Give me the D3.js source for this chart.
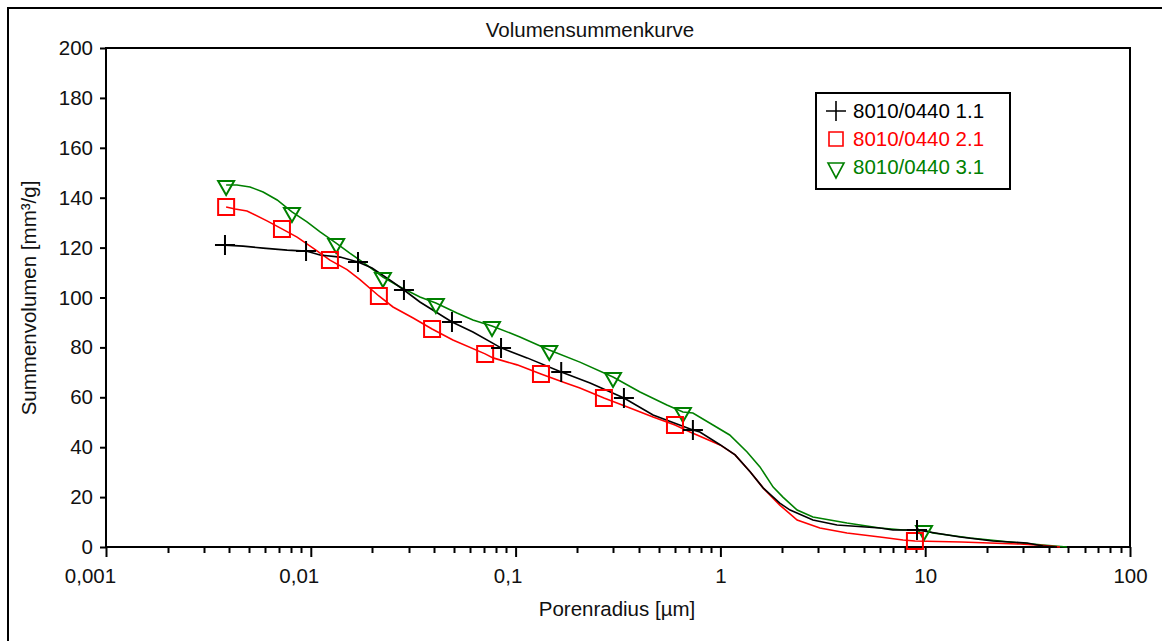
<!DOCTYPE html>
<html>
<head>
<meta charset="utf-8">
<script src="https://cdn.jsdelivr.net/npm/d3@7"></script>
<style>
  html, body { margin: 0; padding: 0; background: #fff; }
  svg { display: block; }
  text { font-family: "Liberation Sans", Arial, sans-serif; font-size: 20.5px; fill: #111; }
</style>
</head>
<body>
<svg id="chart" width="1162" height="641"></svg>
<script>
// Cumulative pore volume curves (Hg porosimetry), three samples
const seriesNames = ["8010/0440 1.1", "8010/0440 2.1", "8010/0440 3.1"];

// Sample 1.1
const radius1 = [0.00381, 0.00467, 0.00585, 0.00766, 0.00948, 0.0111, 0.0139, 0.0170, 0.0199, 0.0244,
  0.0285, 0.0341, 0.0489, 0.0619, 0.0849, 0.1138, 0.167, 0.231, 0.338, 0.469,
  0.734, 0.794, 0.996, 1.18, 1.40, 1.62, 1.95, 2.19, 2.83, 3.71,
  6.01, 6.96, 9.12, 14.8, 21.4, 31.4, 37.6, 44];
const volume1 = [121.0, 120.6, 119.8, 119.0, 118.6, 117.0, 116.2, 114.2, 111.8, 107.0,
  103.0, 98.2, 90.2, 86.2, 79.8, 75.8, 70.1, 65.7, 59.7, 52.9,
  46.9, 46.1, 41.0, 36.9, 30.1, 23.6, 17.6, 14.8, 10.8, 8.8,
  7.6, 6.8, 6.8, 4.0, 2.4, 1.6, 0.4, 0];
const markers1 = [0, 4, 7, 10, 12, 14, 16, 18, 20, 32];

// Sample 2.1
const radius2 = [0.00386, 0.00427, 0.00488, 0.00611, 0.00723, 0.00857, 0.01026, 0.0124, 0.01503, 0.01738,
  0.0215, 0.0252, 0.0316, 0.0391, 0.0494, 0.0710, 0.0776, 0.1017, 0.133, 0.170,
  0.206, 0.270, 0.362, 0.469, 0.600, 0.711, 0.996, 1.18, 1.40, 1.62,
  1.95, 2.37, 3.06, 4.15, 6.01, 7.80, 8.91, 15.0, 29.0, 38.0, 45.5];
const volume2 = [136.3, 135.5, 134.7, 130.7, 127.5, 124.2, 119.8, 115.0, 111.2, 107.2,
  100.6, 96.2, 91.8, 87.4, 83.0, 77.4, 75.8, 73.0, 69.3, 66.1,
  63.7, 59.7, 55.7, 52.1, 48.9, 46.1, 40.9, 36.9, 30.1, 23.6,
  16.8, 10.8, 7.6, 5.6, 4.0, 2.8, 2.4, 2.0, 1.2, 0.6, 0];
const markers2 = [0, 4, 7, 10, 13, 15, 18, 21, 24, 36];

// Sample 3.1
const radius3 = [0.00386, 0.00436, 0.00505, 0.00585, 0.00685, 0.00809, 0.00958, 0.0111, 0.0133, 0.0155,
  0.0188, 0.0225, 0.0273, 0.0341, 0.0408, 0.0517, 0.0619, 0.0767, 0.105, 0.146,
  0.206, 0.299, 0.405, 0.548, 0.656, 0.734, 0.920, 1.11, 1.35, 1.56,
  1.81, 2.02, 2.37, 2.83, 4.15, 6.01, 7.80, 9.87, 10.9, 16.6,
  25.9, 37.6, 49.2];
const volume3 = [145.1, 145.1, 144.3, 142.3, 139.1, 134.3, 130.3, 126.3, 121.8, 117.8,
  113.0, 108.2, 104.2, 100.2, 97.8, 93.8, 91.0, 88.6, 84.2, 79.0,
  74.1, 68.1, 62.1, 56.9, 54.1, 53.7, 48.9, 44.9, 38.1, 32.1,
  24.0, 20.0, 14.8, 12.0, 9.6, 7.6, 6.8, 6.8, 5.6, 3.6,
  2.0, 0.8, 0];
const markers3 = [0, 5, 8, 11, 14, 17, 19, 21, 24, 37];

// Axis ticks
const xTickValues = [0.001, 0.01, 0.1, 1, 10, 100];
const xTickLabels = ["0,001", "0,01", "0,1", "1", "10", "100"];
const yTickValues = [0, 20, 40, 60, 80, 100, 120, 140, 160, 180, 200];

const titleText = "Volumensummenkurve";
const xTitle = "Porenradius [µm]";
const yTitle = "Summenvolumen [mm³/g]";

// ---------------------------------------------------------------
const svg = d3.select("#chart");
const plot = { left: 106, top: 48, right: 1130, bottom: 547 };

const x = d3.scaleLog().domain([0.001, 100]).range([plot.left, plot.right]);
const y = d3.scaleLinear().domain([0, 200]).range([plot.bottom, plot.top]);

// outer frame
svg.append("path")
  .attr("d", "M8,645 V8 H1170")
  .attr("fill", "none").attr("stroke", "#000").attr("stroke-width", 2);

// title
svg.append("text").attr("x", 590).attr("y", 37).attr("text-anchor", "middle").text(titleText);

// y axis
const yAxis = svg.append("g").attr("transform", `translate(${plot.left},0)`)
  .call(d3.axisLeft(y).tickValues(yTickValues).tickSize(6).tickPadding(7).tickFormat(d3.format("d")));
yAxis.select(".domain").remove();
yAxis.selectAll("line").attr("stroke", "#000").attr("stroke-width", 2);
yAxis.selectAll("text").attr("fill", "#111").style("font-size", "20.5px")
  .style("font-family", '"Liberation Sans", Arial, sans-serif');

// x axis: decade ticks with labels
const xAxis = svg.append("g").attr("transform", `translate(0,${plot.bottom})`)
  .call(d3.axisBottom(x).tickValues(xTickValues).tickSize(10)
    .tickFormat((d, i) => xTickLabels[i]));
xAxis.select(".domain").remove();
xAxis.selectAll("line").attr("stroke", "#000").attr("stroke-width", 2);
xAxis.selectAll("text")
  .attr("fill", "#111")
  .attr("y", 21).attr("dy", "0.71em")
  .attr("dx", (d, i) => xTickLabels[i].includes(",") ? -4 * (xTickLabels[i].length - 1) : 0)
  .style("font-size", "20.5px")
  .style("font-family", '"Liberation Sans", Arial, sans-serif');

// x axis: minor ticks 2..9 in each decade
const minorTicks = [];
for (let e = -3; e < 2; e++) {
  for (let m = 2; m <= 9; m++) minorTicks.push(m * Math.pow(10, e));
}
svg.append("g").selectAll("line").data(minorTicks).join("line")
  .attr("x1", d => Math.round(x(d)) + 0.5).attr("x2", d => Math.round(x(d)) + 0.5)
  .attr("y1", plot.bottom).attr("y2", plot.bottom + 6)
  .attr("stroke", "#000").attr("stroke-width", 2);

// plot frame
svg.append("rect")
  .attr("x", plot.left).attr("y", plot.top)
  .attr("width", plot.right - plot.left).attr("height", plot.bottom - plot.top)
  .attr("fill", "none").attr("stroke", "#000").attr("stroke-width", 2);

// axis titles
svg.append("text").attr("x", 617).attr("y", 616).attr("text-anchor", "middle").text(xTitle);
svg.append("text").attr("transform", "translate(36,298) rotate(-90)")
  .attr("text-anchor", "middle").text(yTitle);

// series
const series = [
  { name: seriesNames[0], r: radius1, v: volume1, m: markers1, color: "#000000", symbol: "plus" },
  { name: seriesNames[1], r: radius2, v: volume2, m: markers2, color: "#ff0000", symbol: "square" },
  { name: seriesNames[2], r: radius3, v: volume3, m: markers3, color: "#008000", symbol: "triangle" }
];

function symbolPath(type, size) {
  if (type === "plus") { const a = size.arm; return `M${-a},0H${a}M0,${-a}V${a}`; }
  if (type === "square") { const h = size.half; return `M${-h},${-h}H${h}V${h}H${-h}Z`; }
  // downward triangle, its top edge slightly above the data point
  const w = size.halfW;
  return `M${-w},${-size.up}H${w}L0,${size.down}Z`;
}
const plotSizes = { arm: 10, half: 8, halfW: 8, up: 4, down: 10 };
const legendSizes = { arm: 10, half: 7, halfW: 8, up: 4, down: 11 };

const line = d3.line().x(d => x(d[0])).y(d => y(d[1]));

const drawOrder = [2, 1, 0];
drawOrder.forEach(k => {
  const s = series[k];
  const pts = s.r.map((r, i) => [r, s.v[i]]);
  svg.append("path").datum(pts).attr("d", line)
    .attr("fill", "none").attr("stroke", s.color).attr("stroke-width", 1.6);
});
drawOrder.forEach(k => {
  const s = series[k];
  svg.append("g").selectAll("path").data(s.m).join("path")
    .attr("transform", i => `translate(${x(s.r[i])},${y(s.v[i])})`)
    .attr("d", symbolPath(s.symbol, plotSizes))
    .attr("fill", "none").attr("stroke", s.color).attr("stroke-width", 2);
});

// legend
const legend = svg.append("g");
legend.append("rect").attr("x", 816).attr("y", 93).attr("width", 194).attr("height", 96)
  .attr("fill", "#fff").attr("stroke", "#000").attr("stroke-width", 2);
series.forEach((s, i) => {
  const cy = 111 + i * 28;
  legend.append("path").attr("transform", `translate(836,${cy})`)
    .attr("d", symbolPath(s.symbol, legendSizes))
    .attr("fill", "none").attr("stroke", s.color).attr("stroke-width", s.symbol === "plus" ? 1.6 : 1.6);
  legend.append("text").attr("x", 853).attr("y", cy + 7).style("fill", s.color).text(s.name);
});
</script>
</body>
</html>
